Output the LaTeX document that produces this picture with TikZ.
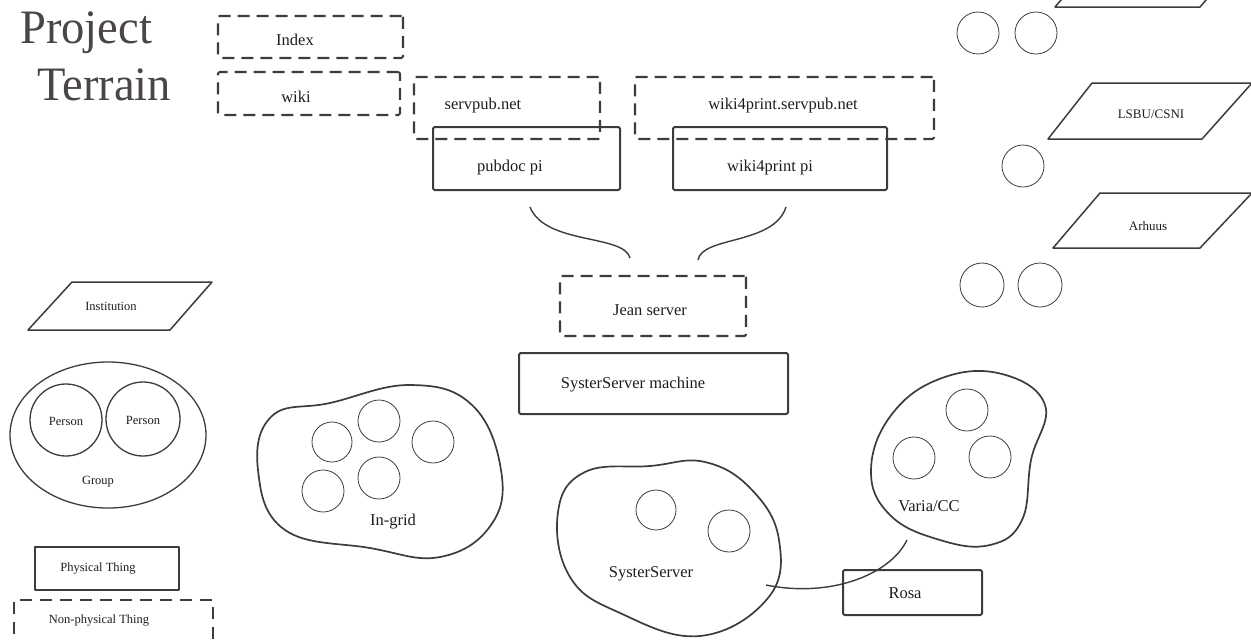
\documentclass[tikz,border=0pt]{standalone}
\usepackage{fontspec}
\setmainfont{Liberation Serif}
\usetikzlibrary{shapes.geometric}
\definecolor{ln}{HTML}{3F3A3B}
\definecolor{ttl}{HTML}{4B4546}
\definecolor{txt}{HTML}{1E1E1E}
\begin{document}
\begin{tikzpicture}[x=1pt,y=-1pt,line join=round,
  pbox/.style={draw=ln,line width=2pt,rounded corners=1.5pt,rectangle,inner sep=0pt},
  dbox/.style={draw=ln,line width=2.1pt,dash pattern=on 12pt off 7pt,rounded corners=1.5pt,rectangle,inner sep=0pt},
  circ/.style={draw=ln,line width=0.8pt,circle,inner sep=0pt},
  blob/.style={draw=ln,line width=1.7pt},
  wire/.style={draw=ln,line width=1.4pt},
  para/.style={draw=ln,line width=1.5pt,line join=round},
  lbl/.style={font=\fontsize{16.5}{18}\selectfont,text=txt,inner sep=0pt},
  slbl/.style={font=\fontsize{12.5}{14}\selectfont,text=txt,inner sep=0pt},
  title/.style={font=\fontsize{48}{50}\selectfont,text=ttl,inner sep=0pt,anchor=base west,xscale=0.97}]
\useasboundingbox (0,0) rectangle (1251,641);
\clip (0,0) rectangle (1251,641);

% title
\node[title] (t1) at (20,43) {Project};
\node[title] (t2) at (37,100) {Terrain};

% top dashed boxes
\node[dbox,minimum width=185pt,minimum height=42pt] (index) at (310.5,37) {};
\node[lbl] (indexl) at (295,40) {Index};
\node[dbox,minimum width=182pt,minimum height=43pt] (wiki) at (309,93.5) {};
\node[lbl] (wikil) at (296,97) {wiki};
\node[dbox,minimum width=186pt,minimum height=62pt] (servpub) at (507,108) {};
\node[lbl] (servpubl) at (483,106) {servpub.net};
\node[dbox,minimum width=299pt,minimum height=62pt] (w4pnet) at (784.5,108) {};
\node[lbl] (w4pnetl) at (783,106) {wiki4print.servpub.net};

% pis
\node[pbox,minimum width=187pt,minimum height=63pt] (pubdoc) at (526.5,158.5) {};
\node[lbl] (pubdocl) at (510,168) {pubdoc pi};
\node[pbox,minimum width=214pt,minimum height=63pt] (w4ppi) at (780,158.5) {};
\node[lbl] (w4ppil) at (770,168) {wiki4print pi};

% braces to Jean server
\coordinate (b1s) at (530,207);
\coordinate (b1e) at (630,258);
\coordinate (b2s) at (786,207);
\coordinate (b2e) at (698,260);
\draw[wire] (b1s) .. controls (545,245) and (624,234) .. (b1e);
\draw[wire] (b2s) .. controls (774,245) and (702,236) .. (b2e);

\node[dbox,minimum width=186pt,minimum height=60pt] (jean) at (653,306) {};
\node[lbl] (jeanl) at (650,310) {Jean server};
\node[pbox,minimum width=269pt,minimum height=61pt] (ssm) at (653.5,383.5) {};
\node[lbl] (ssml) at (633,385) {SysterServer machine};

% right column
\draw[para] (1055,7) -- (1200,7) -- (1245,-45) -- (1100,-45) -- cycle;
\node[circ,minimum size=42pt] (rc1) at (978,33) {};
\node[circ,minimum size=42pt] (rc2) at (1036,33) {};
\draw[para] (1048,139) -- (1202,139) -- (1252,83) -- (1092,83) -- cycle;
\node[slbl,font=\fontsize{13}{15}\selectfont] (lsbu) at (1151,114) {LSBU/CSNI};
\node[circ,minimum size=42pt] (rc3) at (1023,166) {};
\draw[para] (1053,248) -- (1200,248) -- (1252,193) -- (1100,193) -- cycle;
\node[slbl,font=\fontsize{13}{15}\selectfont] (arhuus) at (1148,226) {Arhuus};
\node[circ,minimum size=44pt] (rc4) at (982,285) {};
\node[circ,minimum size=44pt] (rc5) at (1040,285) {};

% legend
\draw[para] (28,330) -- (170,330) -- (212,282) -- (72,282) -- cycle;
\node[slbl] (inst) at (111,306) {Institution};
\node[draw=ln,line width=1.3pt,ellipse,minimum width=196pt,minimum height=146pt,inner sep=0pt] (group) at (108,435) {};
\node[draw=ln,line width=1.3pt,circle,minimum size=72pt,inner sep=0pt] (p1) at (66,420) {};
\node[draw=ln,line width=1.3pt,circle,minimum size=74pt,inner sep=0pt] (p2) at (143,419) {};
\node[slbl] (p1l) at (66,421) {Person};
\node[slbl] (p2l) at (143,420) {Person};
\node[slbl] (groupl) at (98,482) {Group};
\node[draw=ln,line width=1.3pt,rectangle,minimum width=144pt,minimum height=43pt,inner sep=0pt] (phys) at (107,568.5) {};
\node[slbl] (physl) at (98,569) {Physical Thing};
\node[draw=ln,line width=1.4pt,dash pattern=on 12pt off 8pt,rectangle,minimum width=199pt,minimum height=60pt,inner sep=0pt] (nonphys) at (113.5,630) {};
\node[slbl] (nonphysl) at (99,621) {Non-physical Thing};

% In-grid
\draw[blob] plot[smooth cycle,tension=0.7] coordinates {(258,470) (272,416) (330,403) (410,385) (472,405) (501,470) (491,525) (440,557) (370,548) (285,530)};
\node[circ,minimum size=40pt] (ig1) at (332,442) {};
\node[circ,minimum size=42pt] (ig2) at (379,421) {};
\node[circ,minimum size=42pt] (ig3) at (433,442) {};
\node[circ,minimum size=42pt] (ig4) at (323,491) {};
\node[circ,minimum size=42pt] (ig5) at (379,478) {};
\node[lbl] (ingrid) at (393,522) {In-grid};

% SysterServer
\draw[blob] plot[smooth cycle,tension=0.7] coordinates {(558,512) (585,472) (650,466) (705,462) (752,490) (779,540) (768,598) (700,636) (620,613) (570,577)};
\node[circ,minimum size=40pt] (ss1) at (656,510) {};
\node[circ,minimum size=42pt] (ss2) at (729,531) {};
\node[lbl] (ssl) at (651,574) {SysterServer};

% Varia/CC
\draw[blob] plot[smooth cycle,tension=0.7] coordinates {(871,470) (892,414) (942,378) (1002,374) (1045,405) (1031,460) (1022,520) (990,545) (940,540) (890,515)};
\node[circ,minimum size=42pt] (v1) at (967,410) {};
\node[circ,minimum size=42pt] (v2) at (914,458) {};
\node[circ,minimum size=42pt] (v3) at (990,457) {};
\node[lbl] (varia) at (929,506) {Varia/CC};

% Rosa
\node[pbox,minimum width=139pt,minimum height=45pt] (rosa) at (912.5,592.5) {};
\node[lbl] (rosal) at (905,593) {Rosa};

\coordinate (ce1) at (766,585);
\coordinate (ce2) at (907,540);
\draw[wire] (ce1) .. controls (830,598) and (890,575) .. (ce2);
\end{tikzpicture}
\end{document}
